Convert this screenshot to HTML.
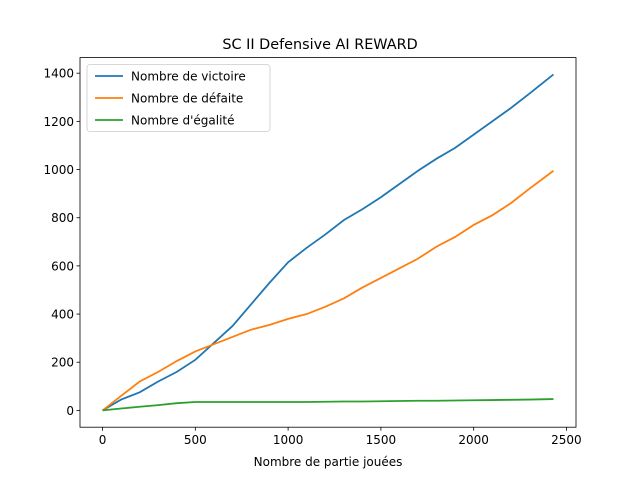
<!DOCTYPE html>
<html><head><meta charset="utf-8"><style>body{margin:0;background:#fff}svg{display:block;font-family:"DejaVu Sans","Liberation Sans",sans-serif}</style></head>
<body>
<svg id="c" width="640" height="480" viewBox="0 0 640 480"></svg>
<script>
const xs=[0,100,200,300,400,500,600,700,800,900,1000,1100,1200,1300,1400,1500,1600,1700,1800,1900,2000,2100,2200,2300,2430];
const victoires=[0,45,75,120,160,210,280,350,440,530,615,675,730,790,835,885,940,995,1045,1090,1145,1200,1255,1315,1395];
const defaites=[0,60,120,160,205,245,275,305,335,355,380,400,430,465,510,550,590,630,680,720,770,810,860,920,995];
const egalites=[0,8,15,22,30,35,35,35,35,35,35,35,36,37,37,38,39,40,40,41,42,43,44,45,47];
const xTicks=[0,500,1000,1500,2000,2500];
const yTicks=[0,200,400,600,800,1000,1200,1400];
const seriesNames=["Nombre de victoire","Nombre de défaite","Nombre d'égalité"];
const colors=["#1f77b4","#ff7f0e","#2ca02c"];
const L=80,R=576,T=57.6,B=427.2;
const x0=-121.5,x1=2551.5,y0=-69.75,y1=1464.75;
const sx=v=>L+(v-x0)/(x1-x0)*(R-L);
const sy=v=>B-(v-y0)/(y1-y0)*(B-T);
const svg=document.getElementById('c');const NS="http://www.w3.org/2000/svg";
function mk(t,a,p){const e=document.createElementNS(NS,t);for(const k in a)e.setAttribute(k,a[k]);(p||svg).appendChild(e);return e;}
let t=mk('text',{x:320,y:49,'text-anchor':'middle','font-size':14.4});t.textContent="SC II Defensive AI REWARD";


[victoires,defaites,egalites].forEach((s,i)=>{
 const p=mk('polyline',{points:xs.map((x,j)=>sx(x)+','+sy(s[j])).join(' '),fill:'none',stroke:colors[i],'stroke-width':1.8});
 
 
});
const fr=mk('rect',{x:L,y:T,width:R-L,height:B-T,fill:'none',stroke:'#000','stroke-width':0.8});


xTicks.forEach(v=>{const X=sx(v);mk('line',{x1:X,x2:X,y1:B,y2:B+3.5,stroke:'#000','stroke-width':0.8});
 const e=mk('text',{x:X,y:B+17,'text-anchor':'middle','font-size':12});e.textContent=v;
 
 });
yTicks.forEach(v=>{const Y=sy(v);mk('line',{x1:L,x2:L-3.5,y1:Y,y2:Y,stroke:'#000','stroke-width':0.8});
 const e=mk('text',{x:L-6,y:Y+4.5,'text-anchor':'end','font-size':12});e.textContent=v;
 
 });
const xl=mk('text',{x:328,y:466,'text-anchor':'middle','font-size':12});xl.textContent="Nombre de partie jouées";


const lg=mk('g',{});


mk('rect',{x:87,y:64.5,width:183,height:67,fill:'#fff',stroke:'#ccc','stroke-width':0.8,rx:3},lg);
seriesNames.forEach((n,i)=>{const y=76+i*22;
 mk('line',{x1:95,x2:123,y1:y,y2:y,stroke:colors[i],'stroke-width':1.8},lg);
 const e=mk('text',{x:131,y:y+4.5,'font-size':12},lg);e.textContent=n;
 
 });
</script>
</body></html>
